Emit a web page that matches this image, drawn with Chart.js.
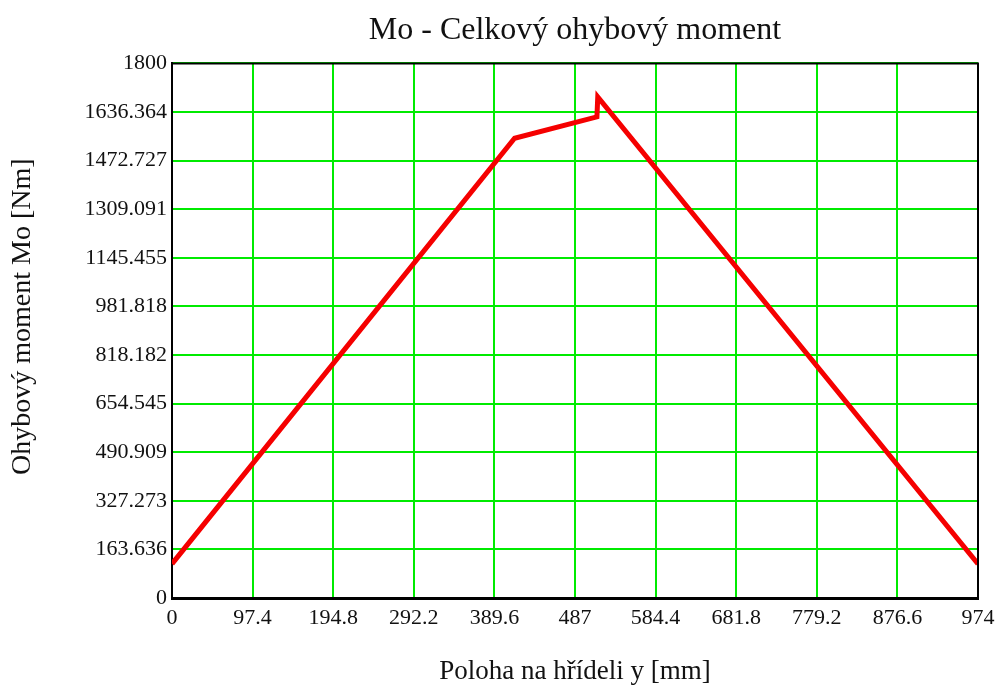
<!DOCTYPE html>
<html>
<head>
<meta charset="utf-8">
<script src="https://cdn.jsdelivr.net/npm/chart.js@4/dist/chart.umd.min.js"></script>
<style>
  html, body { margin: 0; padding: 0; background: #fff; }
  #wrap { width: 1002px; height: 688px; }
</style>
</head>
<body>
<div id="wrap"><canvas id="myChart" width="1002" height="688"></canvas></div>
<script>
// poloha na hřídeli [mm] a ohybový moment [Nm]
var polohaY = [0, 414, 513.5, 514.5, 974];
var momentMo = [115, 1548, 1620, 1687, 115];

var xTicks = [0, 97.4, 194.8, 292.2, 389.6, 487, 584.4, 681.8, 779.2, 876.6, 974];
var yTicks = [0, 163.636, 327.273, 490.909, 654.545, 818.182, 981.818, 1145.455, 1309.091, 1472.727, 1636.364, 1800];

var serif = "'Liberation Serif', 'Times New Roman', serif";
var mrizka = "rgb(0,235,0)";

var body = polohaY.map(function(x, i){ return {x: x, y: momentMo[i]}; });

// ramecek kolem grafu (horni a prava strana)
var ramecek = {
  id: "ramecek",
  afterDatasetsDraw: function(chart){
    var a = chart.chartArea, c = chart.ctx;
    c.save();
    c.strokeStyle = "#000";
    c.lineWidth = 2;
    c.beginPath();
    c.moveTo(a.left, a.top);
    c.lineTo(a.right, a.top);
    c.lineTo(a.right, a.bottom);
    c.stroke();
    c.restore();
  }
};

var ctx = document.getElementById("myChart").getContext("2d");
var chart = new Chart(ctx, {
  type: "line",
  data: {
    datasets: [{
      data: body,
      borderColor: "rgb(245,0,0)",
      borderWidth: 5,
      pointRadius: 0,
      tension: 0,
      fill: false
    }]
  },
  options: {
    responsive: false,
    animation: false,
    layout: { padding: { left: 0, right: 24, top: 5, bottom: 0 } },
    plugins: {
      legend: { display: false },
      tooltip: { enabled: false },
      title: {
        display: true,
        text: "Mo - Celkový ohybový moment",
        fullSize: false,
        color: "#111",
        font: { family: serif, size: 32, weight: "normal" },
        padding: { top: 6, bottom: 14 }
      }
    },
    scales: {
      x: {
        type: "linear",
        min: 0,
        max: 974,
        afterBuildTicks: function(axis){ axis.ticks = xTicks.map(function(v){ return {value: v}; }); },
        afterFit: function(axis){ axis.height = 90; },
        ticks: {
          color: "#111",
          font: { family: serif, size: 22 },
          padding: 7,
          maxRotation: 0,
          autoSkip: false,
          callback: function(v){ return String(Math.round(v * 10) / 10); }
        },
        grid: { color: mrizka, lineWidth: 2, drawTicks: false },
        border: { color: "#000", width: 3 },
        title: {
          display: true,
          text: "Poloha na hřídeli y [mm]",
          color: "#111",
          font: { family: serif, size: 27 },
          padding: { top: 0, bottom: 0 }
        }
      },
      y: {
        type: "linear",
        min: 0,
        max: 1800,
        afterBuildTicks: function(axis){ axis.ticks = yTicks.map(function(v){ return {value: v}; }); },
        afterFit: function(axis){ axis.width = 172; },
        ticks: {
          color: "#111",
          font: { family: serif, size: 22 },
          padding: 5,
          autoSkip: false,
          callback: function(v){ return String(Math.round(v * 1000) / 1000); }
        },
        grid: { color: mrizka, lineWidth: 2, drawTicks: false },
        border: { color: "#000", width: 2 },
        title: {
          display: true,
          text: "\u00a0\u00a0\u00a0\u00a0Ohybový moment Mo [Nm]",
          color: "#111",
          font: { family: serif, size: 28 },
          padding: { top: 6, bottom: 0 }
        }
      }
    }
  },
  plugins: [ramecek]
});
</script>
</body>
</html>
